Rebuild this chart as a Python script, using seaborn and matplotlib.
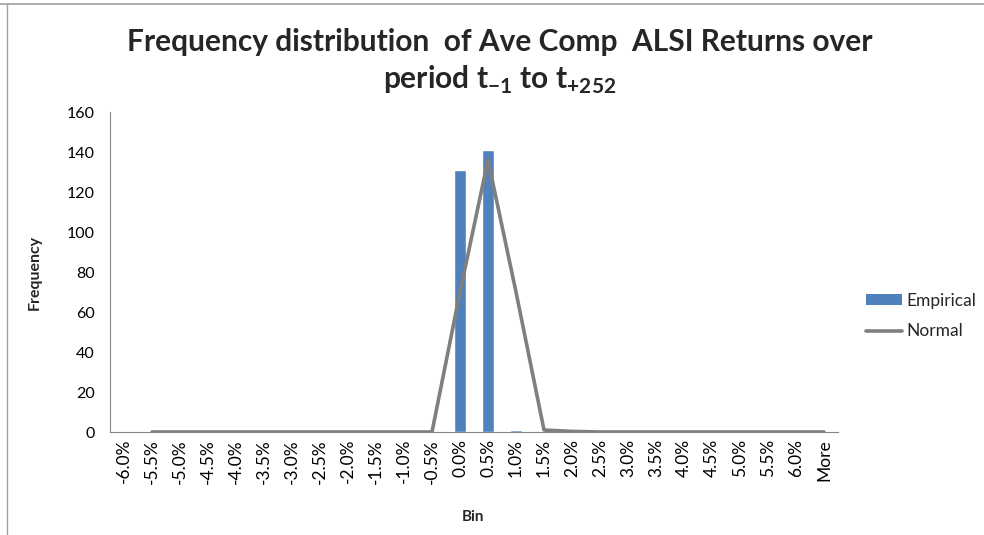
import numpy as np
import pandas as pd
import matplotlib
matplotlib.use("Agg")
import matplotlib.pyplot as plt
import seaborn as sns
from matplotlib.lines import Line2D
from matplotlib.patches import Patch

bins = ["-6.0%", "-5.5%", "-5.0%", "-4.5%", "-4.0%", "-3.5%", "-3.0%", "-2.5%", "-2.0%",
        "-1.5%", "-1.0%", "-0.5%", "0.0%", "0.5%", "1.0%", "1.5%", "2.0%", "2.5%", "3.0%",
        "3.5%", "4.0%", "4.5%", "5.0%", "5.5%", "6.0%", "More"]
empirical = [0, 0, 0, 0, 0, 0, 0, 0, 0, 0, 0, 0, 131, 141, 1, 0, 0, 0, 0, 0, 0, 0, 0, 0, 0, 0]
normal = [np.nan, 0, 0, 0, 0, 0, 0, 0, 0, 0, 0, 0, 70, 136, 70, 1, 0.3, 0, 0, 0, 0, 0, 0, 0, 0, 0]
yticks = [0, 20, 40, 60, 80, 100, 120, 140, 160]

sns.set_theme(style="white")
plt.rcParams['font.family'] = ['Lato', 'DejaVu Sans']

fig = plt.figure(figsize=(9.84, 5.35), dpi=100)
W, H = 984, 535
ax = fig.add_axes([110 / W, (H - 432) / H, (838 - 110) / W, (432 - 112) / H])

df = pd.DataFrame({"Bin": bins, "Empirical": empirical, "Normal": normal})
df["pos"] = np.arange(len(bins))

sns.barplot(data=df, x="Bin", y="Empirical", color="#4F81BD", saturation=1,
            width=0.42, ax=ax, order=bins)
sns.lineplot(data=df, x="pos", y="Normal", color="#7F7F7F", linewidth=2.6, ax=ax)

ax.set_xlim(-0.5, len(bins) - 0.5)
ax.set_ylim(0, 160)
ax.set_yticks(yticks)
ax.set_yticklabels([str(v) for v in yticks], fontsize=11.5)

# category labels at centres, tick marks at boundaries
ax.set_xticks(np.arange(len(bins) + 1) - 0.5)
ax.set_xticklabels([])
ax.set_xticks(np.arange(len(bins)), minor=True)
ax.set_xticklabels(bins, minor=True, fontsize=12.5)
ax.tick_params(axis="x", which="minor", length=0, pad=5, labelrotation=90)
ax.tick_params(axis="x", which="major", length=5, width=0.8, color="#868686", direction="out")
ax.tick_params(axis="y", length=5, width=0.8, color="#868686", direction="out", pad=6,
               labelcolor="black")
ax.tick_params(axis="x", which="minor", labelcolor="black")
plt.setp(ax.get_xticklabels(minor=True), rotation=90, ha="center", va="top")

for s in ["top", "right"]:
    ax.spines[s].set_visible(False)
for s in ["left", "bottom"]:
    ax.spines[s].set_visible(True)
    ax.spines[s].set_color("#868686")
    ax.spines[s].set_linewidth(0.8)

ax.set_xlabel("Bin", fontsize=11, fontweight="bold")
ax.xaxis.set_label_coords((473 - 110) / (838 - 110), -(510 - 432) / (432 - 112))
ax.set_ylabel("Frequency", fontsize=11.5, fontweight="bold")
ax.yaxis.set_label_coords(-(110 - 42) / (838 - 110), 0.5)

fig.text(500 / W, 1 - 42 / H, "Frequency distribution  of Ave Comp  ALSI Returns over",
         ha="center", va="center", fontsize=21.5, fontweight="bold")
fig.text(500 / W, 1 - 80 / H,
         r"period t$_{\mathregular{-1}}$ to t$_{\mathregular{+252}}$",
         ha="center", va="center", fontsize=21.5, fontweight="bold")

handles = [Patch(facecolor="#4F81BD", edgecolor="none"),
           Line2D([0], [0], color="#7F7F7F", linewidth=2.6)]
fig.legend(handles, ["Empirical", "Normal"], loc="center left",
           bbox_to_anchor=(866 / W, 1 - 316 / H), frameon=False, fontsize=12.5,
           handlelength=2.1, handleheight=0.55, labelspacing=0.85, handletextpad=0.25,
           borderaxespad=0, borderpad=0)

# outer chart border (visible top and left)
fig.add_artist(Line2D([0, 1], [1 - 4 / H, 1 - 4 / H], transform=fig.transFigure,
                      color="#A0A0A0", linewidth=1.2))
fig.add_artist(Line2D([7 / W, 7 / W], [0, 1 - 4 / H], transform=fig.transFigure,
                      color="#A0A0A0", linewidth=1.0))

fig.savefig("out.png", dpi=100)
